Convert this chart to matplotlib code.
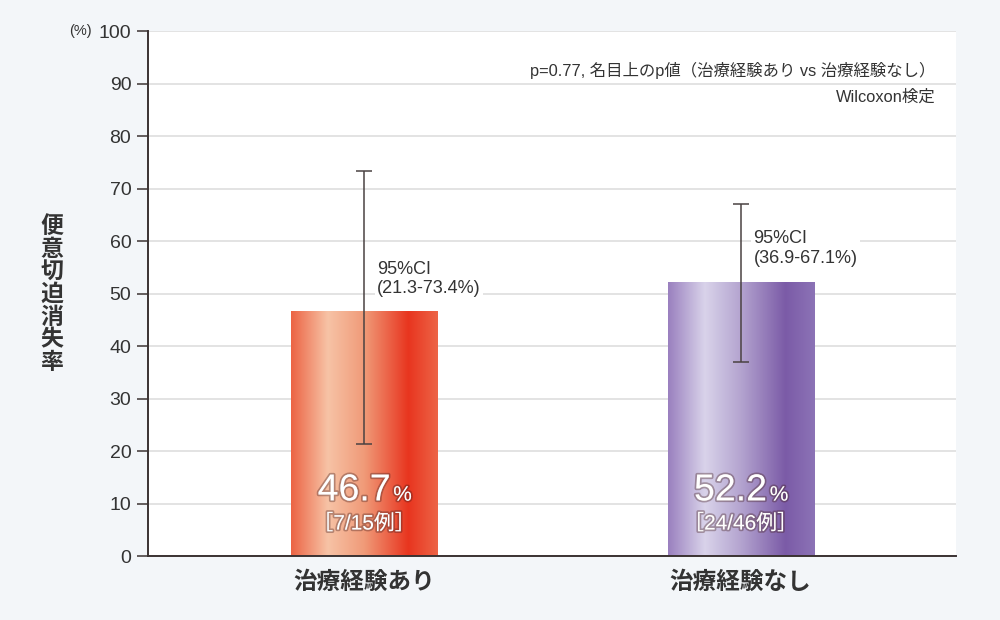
import numpy as np
import matplotlib
matplotlib.use("Agg")
import matplotlib.pyplot as plt
import matplotlib.patheffects as pe
from matplotlib.colors import LinearSegmentedColormap

plt.rcParams['font.family'] = ['Liberation Sans', 'Noto Sans CJK JP', 'DejaVu Sans']

groups = ["治療経験あり", "治療経験なし"]
rates = [46.7, 52.2]
ci_low = [21.3, 36.9]
ci_high = [73.4, 67.1]
counts = ["［7/15例］", "［24/46例］"]
ci_labels = ["95%CI\n(21.3-73.4%)", "95%CI\n(36.9-67.1%)"]
yticks = [0, 10, 20, 30, 40, 50, 60, 70, 80, 90, 100]
ylabel = "便意切迫消失率"
note1 = "p=0.77, 名目上のp値（治療経験あり vs 治療経験なし）"
note2 = "Wilcoxon検定"

bar_colors = [
    ["#ec6444", "#f7c3a6", "#f09a78", "#e8351f", "#ed6446"],
    ["#9a80bf", "#d9d3ea", "#b3a3cf", "#7b5ba7", "#8c73b6"],
]
stops = [0.0, 0.25, 0.5, 0.8, 1.0]
text_color = "#333333"

fig = plt.figure(figsize=(10, 6.2), dpi=100)
fig.patch.set_facecolor("#f3f6f9")
ax = fig.add_axes([0.148, 0.1032, 0.808, 0.8468])
ax.set_facecolor("white")

x = np.arange(len(groups))
width = 0.388
ax.set_xlim(-0.574, 1.572)
ax.set_ylim(0, 100)

ax.set_yticks(yticks)
ax.yaxis.grid(True, color="#dedede", linewidth=1.2)
ax.set_axisbelow(True)

bars = ax.bar(x, rates, width=width, color="none", zorder=2)
grad = np.linspace(0, 1, 256).reshape(1, -1)
for b, cols in zip(bars, bar_colors):
    cmap = LinearSegmentedColormap.from_list("g", list(zip(stops, cols)))
    x0 = b.get_x()
    im = ax.imshow(grad, cmap=cmap, aspect="auto", zorder=2,
                   extent=[x0, x0 + b.get_width(), 0, b.get_height()])
    im.set_clip_path(b)

ax.errorbar(x, rates, yerr=[np.array(rates) - np.array(ci_low), np.array(ci_high) - np.array(rates)],
            fmt="none", ecolor="#4a4242", elinewidth=1.1, capsize=5.5, capthick=1.1, zorder=4)

shadow = [pe.withStroke(linewidth=2.5, foreground=(0.25, 0.1, 0.1, 0.35))]
for xi, r, c in zip(x, rates, counts):
    ax.annotate(f"{r}", (xi, 12.5), xytext=(19, 0), textcoords="offset points",
                ha="right", va="center", fontsize=27, color="white", zorder=5,
                path_effects=shadow)
    ax.annotate("%", (xi, 11.6), xytext=(21, 0), textcoords="offset points",
                ha="left", va="center", fontsize=15, color="white", zorder=5,
                path_effects=shadow)
    ax.text(xi, 6.2, c, ha="center", va="center", fontsize=15, color="white",
            zorder=5, path_effects=shadow)

ax.text(x[0] + 0.034, 52.8, ci_labels[0], ha="left", va="center", fontsize=13,
        color=text_color, linespacing=1.2, zorder=3,
        bbox=dict(facecolor="white", edgecolor="none", pad=1.5))
ax.text(x[1] + 0.034, 58.6, ci_labels[1], ha="left", va="center", fontsize=13,
        color=text_color, linespacing=1.2, zorder=3,
        bbox=dict(facecolor="white", edgecolor="none", pad=1.5))

ax.text(0.975, 0.925, note1, transform=ax.transAxes, ha="right", va="center",
        fontsize=11.8, color=text_color)
ax.text(0.975, 0.875, note2, transform=ax.transAxes, ha="right", va="center",
        fontsize=11.8, color=text_color)

ax.set_xticks(x)
ax.set_xticklabels(groups, fontsize=17, fontweight="bold", color=text_color)
ax.tick_params(axis="x", length=0, pad=11)
ax.tick_params(axis="y", length=8, width=1.2, color="#4a4242", labelsize=14,
               labelcolor=text_color, pad=4, direction="out")

for s in ["top", "right"]:
    ax.spines[s].set_visible(False)
for s in ["left", "bottom"]:
    ax.spines[s].set_color("#3a3232")
    ax.spines[s].set_linewidth(1.4)

fig.text(0.052, 0.525, "\n".join(ylabel), ha="center", va="center", fontsize=16.5,
         fontweight="bold", color=text_color, linespacing=0.98)
fig.text(0.080, 0.95, "(%)", ha="center", va="center", fontsize=10.5, color=text_color)

fig.savefig("out.png", dpi=100, facecolor=fig.get_facecolor())
